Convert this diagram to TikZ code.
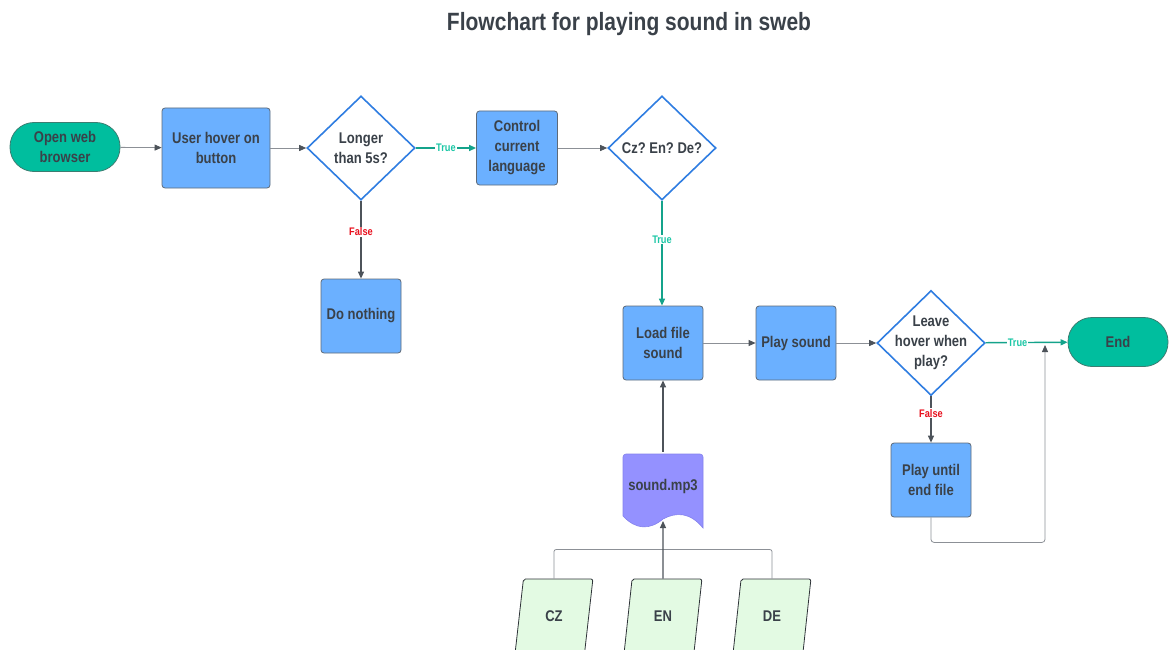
\documentclass[tikz,border=0pt]{standalone}
\usepackage{fontspec}
\setmainfont{Liberation Sans}[FakeStretch=0.84]
\usetikzlibrary{shapes.geometric,arrows.meta}
\frenchspacing

\definecolor{ink}{HTML}{3A4149}
\definecolor{procfill}{HTML}{6BB0FF}
\definecolor{procline}{HTML}{5E6A78}
\definecolor{termfill}{HTML}{00BE9E}
\definecolor{termline}{HTML}{3C7D71}
\definecolor{decline}{HTML}{2F7DE1}
\definecolor{docfill}{HTML}{9491FF}
\definecolor{docline}{HTML}{8482EC}
\definecolor{iofill}{HTML}{E3FAE3}
\definecolor{ioline}{HTML}{2E3338}
\definecolor{tealline}{HTML}{14A38B}
\definecolor{tealtext}{HTML}{1CC7A6}
\definecolor{falsered}{HTML}{E8101E}
\definecolor{flowgray}{HTML}{8C9096}
\definecolor{darkline}{HTML}{4D535A}

\newcommand{\nodefont}{\fontsize{15.5}{20}\selectfont\bfseries}
\newcommand{\labfont}{\fontsize{11}{12}\selectfont\bfseries}

\begin{document}
\begin{tikzpicture}[x=1pt,y=-1pt,
  base/.style={align=center, text=ink, font=\nodefont, inner sep=2pt},
  proc/.style={base, rectangle, rounded corners=3pt, fill=procfill, draw=procline,
    line width=0.8pt, minimum width=80pt, minimum height=74pt},
  term/.style={base, rectangle, rounded corners=24pt, fill=termfill, draw=termline,
    line width=0.8pt, minimum height=49pt},
  decision/.style={diamond, draw=decline, fill=white, line width=1.6pt,
    minimum width=108pt, minimum height=104pt, inner sep=0pt},
  dtext/.style={align=center, text=ink, font=\nodefont},
  iodata/.style={base, trapezium, trapezium left angle=79, trapezium right angle=101,
    trapezium stretches=true, minimum width=78pt, minimum height=74pt,
    fill=iofill, draw=ioline, line width=0.8pt, rounded corners=2pt},
  tip/.style={-{Triangle[length=7pt,width=6pt,color=#1]}},
  flow/.style={draw=flowgray, line width=0.8pt, tip=darkline},
  darkflow/.style={draw=darkline, line width=1.2pt, tip=darkline},
  yes/.style={draw=tealline, line width=1.4pt, tip=tealline},
  plainlink/.style={draw=flowgray, line width=0.8pt, rounded corners=2pt},
  truelab/.style={font=\labfont, text=tealtext, fill=white, inner sep=1pt},
  falselab/.style={font=\labfont, text=falsered, fill=white, inner sep=1pt}
]
\useasboundingbox (0,0) rectangle (1169,650);
\clip (0,0) rectangle (1169,650);

% title
\node[text=ink, font=\fontsize{25}{30}\selectfont\bfseries] (title) at (629,24)
  {Flowchart for playing sound in sweb};

% top row
\node[term, minimum width=110pt] (open) at (65,147) {Open web\\browser};
\node[proc, minimum width=108pt, minimum height=80pt] (hover) at (216,148) {User hover on\\button};
\node[decision, label={[dtext]center:Longer\\than 5s?}] (longer) at (361,148) {};
\node[proc, minimum width=81pt] (control) at (517,148) {Control\\current\\language};
\node[decision, label={[dtext]center:Cz? En? De?}] (lang) at (662,148) {};
\node[proc] (nothing) at (361,316) {Do nothing};

% middle row
\node[proc] (load) at (663,343) {Load file\\sound};
\node[proc] (play) at (796,343) {Play sound};
\node[decision, minimum height=105pt, label={[dtext]center:Leave\\hover when\\play?}] (leave) at (931,343) {};
\node[term, minimum width=100pt] (end) at (1118,342) {End};
\node[proc] (until) at (931,480) {Play until\\end file};

% sound file (document shape)
\path[fill=docfill, draw=docline, line width=0.6pt]
  [rounded corners=3pt] (623,516) -- (623,454) -- (703,454) [sharp corners] -- (703,528)
  .. controls (690,512) and (676,512) .. (663,519)
  .. controls (650,530) and (636,530) .. (623,516) -- cycle;
\node[base, minimum width=80pt, minimum height=68pt] (doc) at (663,486) {sound.mp3};
\coordinate (docbot) at (663,521);

% language files
\node[iodata] (cz) at (554,616) {CZ};
\node[iodata] (en) at (663,616) {EN};
\node[iodata] (de) at (772,616) {DE};

% connectors
\draw[flow] (open) -- (hover);
\draw[flow] (hover) -- (longer);
\draw[yes] (longer) -- node[truelab]{True} (control);
\draw[flow] (control) -- (lang);
\draw[darkflow] (longer) -- node[falselab, pos=0.4]{False} (nothing);
\draw[yes] (lang.south) -- node[truelab, pos=0.37]{True} (lang.south |- load.north);
\draw[flow] (load) -- (play);
\draw[flow] (play) -- (leave);
\draw[yes] (leave) -- node[truelab, pos=0.39]{True} (end);
\draw[darkflow] (leave) -- node[falselab, pos=0.37]{False} (until);
\coordinate (merge) at (1045,345);
\draw[flow, rounded corners=3pt] (until.south) -- ++(0,25) -| (merge);
\draw[darkflow] (doc.north) -- (load.south);
\draw[plainlink] (cz.north) -- ++(0,-29) -| (de.north);
\draw[darkflow] (en.north) -- (docbot);
\end{tikzpicture}
\end{document}
